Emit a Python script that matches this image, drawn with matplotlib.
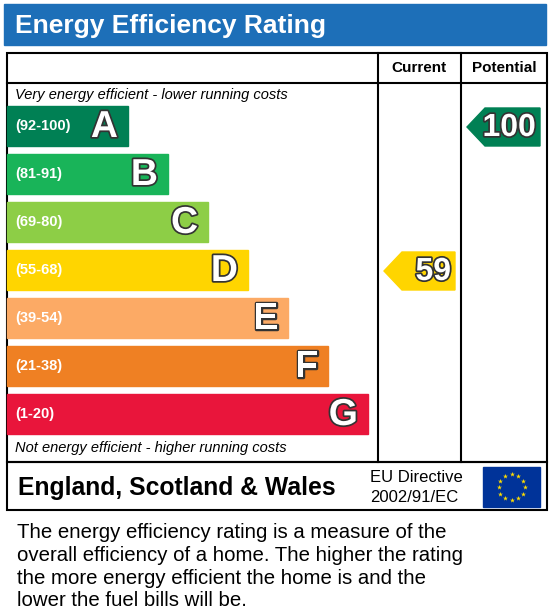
import matplotlib
matplotlib.use("Agg")
import matplotlib.pyplot as plt
import matplotlib.patheffects as pe
from matplotlib.patches import Rectangle, Polygon
import numpy as np

# data
band_letters = ["A", "B", "C", "D", "E", "F", "G"]
band_ranges = ["(92-100)", "(81-91)", "(69-80)", "(55-68)", "(39-54)", "(21-38)", "(1-20)"]
band_lows = [92, 81, 69, 55, 39, 21, 1]
band_colors = ["#008054", "#19b459", "#8dce46", "#ffd500", "#fcaa65", "#ef8023", "#e9153b"]
current_rating = 59
potential_rating = 100

W, H = 550, 612
fig = plt.figure(figsize=(W / 100, H / 100), dpi=100)
ax = fig.add_axes([0, 0, 1, 1])
ax.set_xlim(0, W)
ax.set_ylim(H, 0)
ax.axis("off")

# title bar
ax.add_patch(Rectangle((4, 4), 542, 41, color="#1d6fb8"))
ax.text(15, 26, "Energy Efficiency Rating", color="white", fontsize=19,
        fontweight="bold", va="center", family="Liberation Sans")

# frame
lw = 1.5
ax.add_patch(Rectangle((7, 53), 540, 409, fill=False, lw=lw, ec="black"))
ax.add_patch(Rectangle((7, 462), 540, 48, fill=False, lw=lw, ec="black"))
ax.plot([7, 547], [83, 83], color="black", lw=lw)
ax.plot([378, 378], [53, 462], color="black", lw=lw)
ax.plot([461, 461], [53, 462], color="black", lw=lw)
ax.text(419, 68, "Current", ha="center", va="center", fontsize=11, fontweight="bold", family="Liberation Sans")
ax.text(504, 68, "Potential", ha="center", va="center", fontsize=11, fontweight="bold", family="Liberation Sans")

ax.text(15, 95, "Very energy efficient - lower running costs", fontsize=10.5,
        style="italic", va="center", family="Liberation Sans")
ax.text(15, 448, "Not energy efficient - higher running costs", fontsize=10.5,
        style="italic", va="center", family="Liberation Sans")

outline = [pe.withStroke(linewidth=2.5, foreground="#333333")]
band_top0, band_h, band_step = 106, 40, 48
for i, (let, rng, col) in enumerate(zip(band_letters, band_ranges, band_colors)):
    top = band_top0 + i * band_step
    right = 128 + i * 40
    ax.add_patch(Rectangle((7, top), right - 7, band_h, color=col))
    ax.text(15, top + band_h / 2, rng, color="white", fontsize=10.5, fontweight="bold",
            va="center", family="Liberation Sans")
    ax.text(right - 10, top + band_h / 2 + 1, let, color="white", fontsize=27, fontweight="bold",
            ha="right", va="center", family="Liberation Sans", path_effects=outline)


def band_index(v):
    for i, lo in enumerate(band_lows):
        if v >= lo:
            return i
    return len(band_lows) - 1


def arrow(v, x0, x1):
    i = band_index(v)
    top = band_top0 + i * band_step + 2
    bot = top + 38
    mid = (top + bot) / 2
    pts = [(x0, mid), (x0 + 18, top), (x1, top), (x1, bot), (x0 + 18, bot)]
    ax.add_patch(Polygon(pts, color=band_colors[i]))
    ax.text(x1 - 4, mid + 1, str(v), color="white", fontsize=23, fontweight="bold",
            ha="right", va="center", family="Liberation Sans", path_effects=outline)


arrow(current_rating, 384, 455)
arrow(potential_rating, 467, 540)

# bottom row
ax.text(18, 488, "England, Scotland & Wales", fontsize=17.8, fontweight="bold",
        va="center", family="Liberation Sans")
ax.text(370, 477, "EU Directive", fontsize=12, va="center", family="Liberation Sans")
ax.text(370, 497, "2002/91/EC", fontsize=12, va="center", family="Liberation Sans")
ax.add_patch(Rectangle((483, 467), 57, 40, color="#003399"))
ang = np.linspace(0, 2 * np.pi, 13)[:-1]
ax.scatter(511.5 + 13 * np.cos(ang), 487 + 13 * np.sin(ang), marker="*", s=14,
           color="#ffdd00", lw=0)

footer = ["The energy efficiency rating is a measure of the",
          "overall efficiency of a home. The higher the rating",
          "the more energy efficient the home is and the",
          "lower the fuel bills will be."]
for k, line in enumerate(footer):
    ax.text(17, 533 + k * 22.5, line, fontsize=14.7, va="center", family="Liberation Sans")

fig.savefig("out.png", dpi=100)
